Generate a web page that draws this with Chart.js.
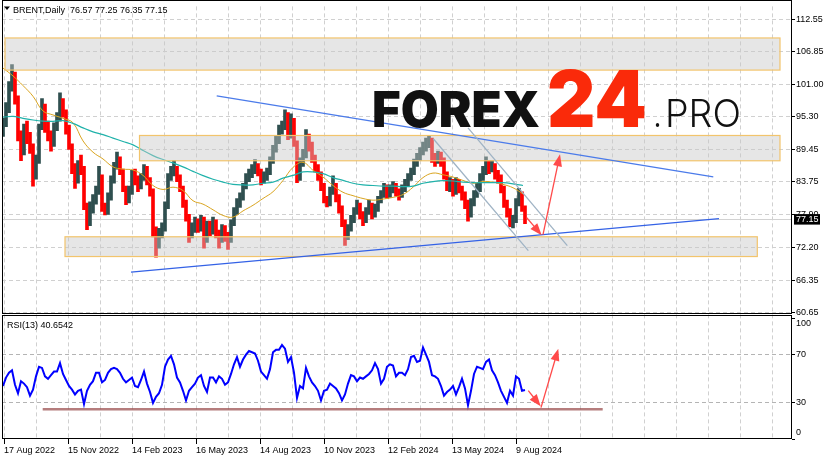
<!DOCTYPE html>
<html>
<head>
<meta charset="utf-8">
<script src="https://cdn.jsdelivr.net/npm/chart.js@4.4.1/dist/chart.umd.min.js"></script>
<style>
  html, body { margin: 0; padding: 0; background: #fff; }
  canvas { display: block; }
</style>
</head>
<body>
<canvas id="brentChart" width="831" height="460"></canvas>
<script>
// Brent daily, one candle for every 3 trading days (bar index = trading day since 17 Aug 2022)
const candleStep = 3;
const closes = [
  94.0, 96.5, 100.5, 102.5, 98.5, 92.0, 89.0, 93.0, 91.5, 90.0,
  85.0, 87.5, 93.5, 97.0, 93.0, 92.0, 90.5, 93.5, 95.0, 97.5,
  96.0, 93.0, 90.0, 86.0, 84.0, 86.5, 86.0, 79.5, 76.5, 79.0,
  80.5, 82.0, 84.5, 79.0, 78.5, 81.0, 84.0, 86.5, 87.5, 85.5,
  82.5, 80.5, 82.0, 85.0, 84.0, 83.0, 84.5, 86.0, 84.0, 82.0,
  75.0, 72.5, 74.5, 75.5, 79.5, 84.5, 85.5, 86.0, 84.5, 82.5,
  80.0, 77.5, 74.5, 75.5, 76.5, 75.5, 77.0, 73.5, 76.0, 75.0,
  76.5, 74.5, 73.5, 75.5, 74.0, 73.5, 76.5, 78.5, 80.0, 81.0,
  83.0, 84.5, 85.0, 86.0, 86.5, 85.5, 84.0, 84.5, 85.5, 87.5,
  89.5, 91.0, 93.0, 93.5, 95.5, 92.0, 94.5, 90.5, 84.5, 87.0,
  88.5, 91.5, 90.0, 88.0, 86.0, 85.0, 83.0, 80.5, 80.0, 82.0,
  83.0, 81.0, 79.0, 76.5, 74.0, 75.5, 77.0, 78.5, 79.5, 78.0,
  77.0, 78.5, 79.5, 78.0, 79.0, 80.5, 81.5, 82.5, 81.5, 82.5,
  83.0, 82.0, 81.5, 82.5, 83.5, 84.5, 85.5, 87.0, 88.0, 89.0,
  90.0, 90.5, 91.0, 88.0, 87.5, 88.5, 87.5, 85.0, 83.0, 83.5,
  82.0, 83.5, 82.5, 81.5, 80.0, 78.0, 80.0, 81.5, 82.5, 84.5,
  85.5, 87.0, 86.0, 86.5, 85.0, 84.5, 82.5, 80.0, 78.5, 76.5,
  77.0, 80.0, 81.5, 79.0, 77.15
];
const highs = [
  95.0, 97.8, 101.5, 104.5, 103.2, 99.0, 92.8, 94.0, 94.5, 92.5,
  90.5, 88.5, 94.0, 98.5, 97.5, 94.5, 92.8, 94.2, 96.0, 99.5,
  98.5, 96.5, 93.8, 90.5, 87.0, 87.5, 88.5, 86.5, 80.0, 80.2,
  81.5, 83.0, 86.5, 85.0, 80.0, 81.8, 84.8, 87.2, 89.0, 88.2,
  86.0, 83.0, 83.0, 85.8, 86.0, 84.8, 85.2, 86.8, 86.5, 84.5,
  82.5, 75.8, 75.5, 76.5, 80.2, 85.2, 86.5, 87.5, 86.5, 85.0,
  83.0, 80.5, 78.0, 76.5, 77.5, 77.2, 77.8, 77.5, 76.8, 76.8,
  77.5, 77.0, 75.2, 76.2, 76.0, 74.8, 77.0, 79.2, 80.8, 81.8,
  83.5, 85.2, 86.0, 86.8, 87.7, 87.0, 86.0, 85.5, 86.2, 88.2,
  90.2, 91.8, 93.8, 94.5, 96.5, 96.0, 95.8, 95.0, 91.0, 88.0,
  89.5, 93.0, 92.2, 90.8, 88.5, 86.8, 85.5, 83.5, 81.2, 82.8,
  84.8, 83.5, 81.5, 79.5, 77.0, 76.2, 77.8, 79.2, 80.5, 80.0,
  78.5, 79.2, 80.5, 80.0, 79.8, 81.2, 82.2, 83.5, 83.2, 83.2,
  83.8, 83.5, 82.5, 83.2, 84.2, 85.2, 86.2, 87.8, 88.8, 89.8,
  90.8, 91.5, 92.0, 91.5, 88.8, 89.2, 89.0, 88.0, 85.5, 84.5,
  84.2, 84.5, 84.2, 83.0, 82.0, 80.5, 80.8, 82.2, 83.5, 85.2,
  86.5, 88.2, 87.5, 87.5, 87.0, 85.8, 85.0, 83.0, 80.5, 79.0,
  77.8, 80.8, 82.6, 82.0, 79.5
];
const lows = [
  91.8, 93.5, 96.0, 99.8, 97.5, 91.0, 87.5, 88.5, 90.5, 88.8,
  83.0, 84.2, 87.0, 93.0, 92.5, 91.0, 89.2, 90.0, 92.8, 94.5,
  95.2, 92.2, 89.5, 85.2, 82.6, 83.5, 85.0, 78.8, 75.3, 76.0,
  78.2, 79.8, 81.5, 78.5, 77.9, 78.0, 80.5, 83.5, 86.0, 85.0,
  82.0, 79.7, 80.0, 81.5, 83.2, 82.0, 82.5, 84.0, 83.2, 81.2,
  74.0, 70.4, 72.0, 73.8, 75.0, 79.0, 84.0, 84.8, 83.8, 82.0,
  79.2, 76.8, 73.0, 73.8, 74.8, 74.8, 75.0, 72.0, 73.0, 74.2,
  74.5, 73.8, 72.0, 73.0, 73.2, 71.8, 73.0, 76.0, 78.0, 79.2,
  80.5, 82.5, 83.8, 84.5, 85.2, 84.8, 83.2, 83.5, 84.0, 85.0,
  87.0, 89.0, 90.5, 92.2, 93.0, 91.2, 91.5, 90.0, 83.6, 84.0,
  86.5, 88.0, 89.2, 87.2, 85.5, 84.0, 82.2, 80.0, 79.3, 79.5,
  81.5, 80.2, 78.2, 75.8, 72.5, 73.5, 75.0, 76.5, 78.0, 77.2,
  76.0, 76.5, 78.0, 77.2, 77.5, 78.5, 80.0, 81.0, 80.8, 81.0,
  81.8, 81.2, 80.5, 81.0, 82.0, 83.0, 84.0, 85.0, 86.5, 87.5,
  88.5, 89.2, 89.8, 87.2, 86.5, 87.0, 86.5, 84.2, 82.2, 82.0,
  81.2, 81.5, 81.8, 80.5, 79.0, 76.8, 77.5, 79.5, 81.0, 82.0,
  84.0, 85.0, 85.2, 85.5, 84.2, 83.5, 81.8, 79.2, 77.5, 75.8,
  75.6, 76.5, 79.5, 78.5, 76.35
];
// RSI(13), same 3-day steps
const rsi13 = [
  44, 51, 55, 57, 45, 38, 48, 46, 43, 36,
  41, 52, 60, 59, 52, 50, 53, 56, 56, 63,
  54, 49, 44, 41, 37, 40, 41, 29, 40, 45,
  48, 55, 55, 47, 49, 55, 58, 59, 58, 55,
  50, 47, 49, 51, 44, 43, 49, 56, 46, 39,
  30, 35, 38, 45, 60, 66, 69, 62, 51, 47,
  40, 32, 40, 43, 46, 51, 53, 44, 39, 51,
  51, 47, 52, 50, 45, 47, 54, 62, 68, 60,
  66, 70, 73, 72, 71, 65, 56, 53, 50, 58,
  72, 74, 74, 78, 75, 64, 68, 55, 34, 44,
  42, 59, 52, 47, 44, 40, 32, 40, 41, 46,
  44, 42, 38, 32, 37, 46, 53, 52, 48, 51,
  50, 52, 54, 57, 63, 58, 46, 50, 60, 62,
  61, 52, 55, 55, 53, 58, 68, 69, 64, 65,
  76, 70, 64, 53, 52, 50, 44, 36, 39, 41,
  44, 37, 43, 50, 42, 28, 40, 54, 60, 59,
  58, 64, 66, 57, 53, 47, 40, 35, 30, 40,
  36, 52, 50, 40, 40.65
];
// moving averages read every 10 bars
const maBars = [
  0, 10, 20, 30, 40, 50, 60, 70, 80, 90, 100, 110, 120, 130, 140, 150, 160, 170,
  180, 190, 200, 210, 220, 230, 240, 250, 260, 270, 280, 290, 300, 310, 320, 330,
  340, 350, 360, 370, 380, 390, 400, 410, 420, 430, 440, 450, 460, 470, 480, 490,
  500, 510, 520
];
const maFast = [
  103.9, 102.5, 100.8, 98.9, 96.3, 95.6, 95.0, 94.2, 91.0, 89.0,
  87.8, 86.4, 86.0, 85.85, 84.9, 83.1, 82.4, 82.8, 82.2, 80.4,
  79.8, 78.8, 77.8, 77.5, 78.6, 79.6, 80.8, 82.0, 84.0, 86.3,
  87.2, 85.8, 84.6, 83.1, 81.9, 81.3, 80.8, 80.5, 80.7, 81.0,
  81.5, 82.8, 84.5, 85.3, 85.0, 84.6, 84.0, 83.5, 83.8, 83.7,
  83.3, 82.7, 81.6
];
const maSlow = [
  95.2, 95.35, 95.0, 94.7, 94.5, 94.45, 94.6, 94.1, 93.3, 92.6,
  92.1, 91.5, 90.9, 90.3, 89.3, 88.4, 87.7, 87.1, 86.4, 85.6,
  84.85, 84.2, 83.7, 83.3, 83.2, 83.2, 83.5, 83.7, 84.4, 84.9,
  85.5, 85.5, 85.2, 84.5, 84.0, 83.5, 83.2, 83.1, 83.0, 83.0,
  82.9, 83.0, 83.5, 83.8, 83.95, 83.9, 83.7, 83.6, 83.6, 83.6,
  83.6, 83.4, 83.1
];

const priceTicks = [60.65, 66.35, 72.20, 77.90, 83.75, 89.45, 95.30, 101.00, 106.85, 112.55];
const rsiLevels = [0, 30, 70, 100];
const dateLabels = ['17 Aug 2022', '15 Nov 2022', '14 Feb 2023', '16 May 2023', '14 Aug 2023',
  '10 Nov 2023', '12 Feb 2024', '13 May 2024', '9 Aug 2024'];
const headerText = 'BRENT,Daily  76.57 77.25 76.35 77.15';
const rsiTitle = 'RSI(13) 40.6542';
const lastPrice = 77.15;

// drawings on the chart, in (bar, price) units
const zones = [
  [2, 777, 109.23, 103.54],
  [136.5, 777, 91.96, 87.48],
  [62, 754.3, 74.02, 70.52]
];
const trendLines = [
  [213.7, 98.96, 710.3, 84.62, '#4b7bea'],
  [128, 67.77, 716, 77.22, '#3462e6'],
  [430.3, 91.38, 525.3, 71.57, '#9fb3c4'],
  [465, 93.3, 564.3, 72.44, '#9fb3c4']
];
const priceArrows = [[523.7, 77.39, 538.7, 74.3], [540, 74.42, 557, 88.64]];
const rsiArrows = [[525.3, 40.1, 537.7, 27.2], [538, 26.1, 555.3, 74.9]];
const rsiSupport = [39.7, 599.7, 24.7];

Chart.defaults.font.family = "'Liberation Sans', Arial, sans-serif";
Chart.defaults.font.size = 9;
Chart.defaults.color = '#000';

function arrow(ctx, x1, y1, x2, y2) {
  const ang = Math.atan2(y2 - y1, x2 - x1);
  const len = 12, half = 4.5;
  ctx.strokeStyle = '#ff4a4a';
  ctx.fillStyle = '#ff4a4a';
  ctx.lineWidth = 1.3;
  ctx.beginPath();
  ctx.moveTo(x1, y1);
  ctx.lineTo(x2 - Math.cos(ang) * len * 0.8, y2 - Math.sin(ang) * len * 0.8);
  ctx.stroke();
  ctx.beginPath();
  ctx.moveTo(x2, y2);
  ctx.lineTo(x2 - Math.cos(ang) * len - Math.sin(ang) * half, y2 - Math.sin(ang) * len + Math.cos(ang) * half);
  ctx.lineTo(x2 - Math.cos(ang) * len + Math.sin(ang) * half, y2 - Math.sin(ang) * len - Math.cos(ang) * half);
  ctx.closePath();
  ctx.fill();
}

function fitText(ctx, text, left, baseline, width, font, color) {
  ctx.font = font;
  const w = ctx.measureText(text).width;
  ctx.save();
  ctx.translate(left, baseline);
  ctx.scale(width / w, 1);
  ctx.fillStyle = color;
  ctx.textBaseline = 'alphabetic';
  ctx.textAlign = 'left';
  ctx.fillText(text, 0, 0);
  ctx.restore();
}

const overlay = {
  id: 'overlay',
  beforeDraw(chart) {
    const c = chart.ctx;
    c.save();
    c.fillStyle = '#fff';
    c.fillRect(0, 0, chart.width, chart.height);
    c.restore();
  },
  beforeDatasetsDraw(chart) {
    // bid line
    const { ctx, chartArea: a, scales } = chart;
    const y = Math.round(scales.y.getPixelForValue(lastPrice)) + 0.5;
    ctx.save();
    ctx.strokeStyle = '#d2d2d2';
    ctx.lineWidth = 1;
    ctx.beginPath();
    ctx.moveTo(a.left, y);
    ctx.lineTo(a.right, y);
    ctx.stroke();
    ctx.restore();
  },
  afterDatasetsDraw(chart) {
    const { ctx, chartArea: a, scales: { x, y, yr } } = chart;

    // price pane drawings
    ctx.save();
    ctx.beginPath();
    ctx.rect(a.left, y.top, a.right - a.left, y.bottom - y.top);
    ctx.clip();
    zones.forEach(z => {
      const x1 = x.getPixelForValue(z[0]), x2 = x.getPixelForValue(z[1]);
      const y1 = y.getPixelForValue(z[2]), y2 = y.getPixelForValue(z[3]);
      ctx.fillStyle = 'rgba(200,200,200,0.45)';
      ctx.fillRect(x1, y1, x2 - x1, y2 - y1);
      ctx.strokeStyle = '#f2c46c';
      ctx.lineWidth = 1.2;
      ctx.strokeRect(x1, y1, x2 - x1, y2 - y1);
    });
    trendLines.forEach(t => {
      ctx.strokeStyle = t[4];
      ctx.lineWidth = 1.3;
      ctx.beginPath();
      ctx.moveTo(x.getPixelForValue(t[0]), y.getPixelForValue(t[1]));
      ctx.lineTo(x.getPixelForValue(t[2]), y.getPixelForValue(t[3]));
      ctx.stroke();
    });
    priceArrows.forEach(p => arrow(ctx, x.getPixelForValue(p[0]), y.getPixelForValue(p[1]),
      x.getPixelForValue(p[2]), y.getPixelForValue(p[3])));

    // logo
    fitText(ctx, 'FOREX', 372, 127, 168, "900 49px Inter, Lato, sans-serif", '#111');
    fitText(ctx, '24', 547, 127, 100, "900 79px Inter, Lato, sans-serif", '#fa2a0a');
    fitText(ctx, '.', 653, 127, 9, "300 38px Inter, Lato, sans-serif", '#111');
    fitText(ctx, 'PRO', 665, 127, 76, "300 38px Inter, Lato, sans-serif", '#111');
    ctx.restore();

    // RSI pane drawings
    ctx.save();
    ctx.beginPath();
    ctx.rect(a.left, yr.top, a.right - a.left, yr.bottom - yr.top);
    ctx.clip();
    const sy = yr.getPixelForValue(rsiSupport[2]);
    ctx.strokeStyle = 'rgba(150,70,70,0.7)';
    ctx.lineWidth = 2.5;
    ctx.beginPath();
    ctx.moveTo(x.getPixelForValue(rsiSupport[0]), sy);
    ctx.lineTo(x.getPixelForValue(rsiSupport[1]), sy);
    ctx.stroke();
    rsiArrows.forEach(p => arrow(ctx, x.getPixelForValue(p[0]), yr.getPixelForValue(p[1]),
      x.getPixelForValue(p[2]), yr.getPixelForValue(p[3])));
    ctx.restore();
  },
  afterDraw(chart) {
    const { ctx, chartArea: a, scales: { y, yr } } = chart;
    ctx.save();
    // panel borders
    ctx.strokeStyle = '#000';
    ctx.lineWidth = 1;
    ctx.strokeRect(a.left + 0.5, 0.5, a.right - a.left - 1, 313);
    ctx.strokeRect(a.left + 0.5, 315.5, a.right - a.left - 1, 123);

    // titles
    ctx.fillStyle = '#000';
    ctx.beginPath();
    ctx.moveTo(4, 6.5);
    ctx.lineTo(10, 6.5);
    ctx.lineTo(7, 10);
    ctx.closePath();
    ctx.fill();
    ctx.font = "9px 'Liberation Sans', Arial, sans-serif";
    ctx.textBaseline = 'alphabetic';
    ctx.textAlign = 'left';
    ctx.fillText(headerText, 13, 13);
    ctx.fillText(rsiTitle, 7, 328);

    // RSI scale labels
    ctx.textBaseline = 'middle';
    rsiLevels.forEach(v => {
      let py = yr.getPixelForValue(v);
      if (v === 100) py += 5;
      if (v === 0) py -= 6;
      ctx.fillText(String(v), a.right + 4, py);
    });

    // last price box
    const py = y.getPixelForValue(lastPrice);
    ctx.fillStyle = '#000';
    ctx.fillRect(a.right + 2, py - 5, 26, 10.5);
    ctx.fillStyle = '#fff';
    ctx.fillText(lastPrice.toFixed(2), a.right + 4, py + 0.5);
    ctx.restore();
  }
};

const candleData = closes.map((c, k) => ({ x: k * candleStep, y: [lows[k], highs[k]] }));
const candleColors = closes.map((c, k) => (k === 0 || c >= closes[k - 1]) ? '#2f4f4f' : '#ff0000');

let ctx = document.getElementById('brentChart').getContext('2d');
let chart = new Chart(ctx, {
  type: 'bar',
  data: {
    datasets: [
      {
        type: 'bar',
        data: candleData,
        backgroundColor: candleColors,
        borderWidth: 0,
        barThickness: 3,
        yAxisID: 'y',
        order: 3
      },
      {
        type: 'line',
        data: maBars.map((b, i) => ({ x: b, y: maFast[i] })),
        borderColor: '#daa520',
        borderWidth: 1,
        pointRadius: 0,
        tension: 0.4,
        yAxisID: 'y',
        order: 2
      },
      {
        type: 'line',
        data: maBars.map((b, i) => ({ x: b, y: maSlow[i] })),
        borderColor: '#20b2aa',
        borderWidth: 1.2,
        pointRadius: 0,
        tension: 0.4,
        yAxisID: 'y',
        order: 1
      },
      {
        type: 'line',
        data: rsi13.map((v, k) => ({ x: k * candleStep, y: v })),
        borderColor: '#0000ff',
        borderWidth: 2,
        pointRadius: 0,
        tension: 0,
        yAxisID: 'yr',
        order: 0
      }
    ]
  },
  options: {
    responsive: false,
    animation: false,
    events: [],
    layout: { padding: { left: 2, top: 1, right: 0, bottom: 0 } },
    plugins: { legend: { display: false }, tooltip: { enabled: false } },
    scales: {
      x: {
        type: 'linear',
        min: -1,
        max: 789,
        offset: false,
        afterFit: s => { s.height = 21; },
        afterBuildTicks: s => {
          const t = [];
          for (let i = 0; i < 25; i++) t.push({ value: 1 + 32 * i });
          s.ticks = t;
        },
        ticks: {
          autoSkip: false,
          maxRotation: 0,
          align: 'start',
          padding: 1,
          callback: (v, i) => (i % 2 === 0 && dateLabels[i / 2]) ? dateLabels[i / 2] : ''
        },
        grid: {
          offset: false,
          color: '#d0d0d0',
          tickLength: 5,
          tickColor: c => (c.index % 2 === 0 && c.index / 2 < dateLabels.length) ? '#000' : 'rgba(0,0,0,0)',
          tickBorderDash: [1, 0]
        },
        border: { display: false, dash: [4, 3] }
      },
      y: {
        type: 'linear',
        position: 'right',
        stack: 'panes',
        stackWeight: 313,
        min: 60.07,
        max: 114.82,
        afterFit: s => { s.width = 39; },
        afterBuildTicks: s => { s.ticks = priceTicks.map(v => ({ value: v })); },
        ticks: { autoSkip: false, padding: 1, callback: v => v.toFixed(2) },
        grid: { color: '#d0d0d0', tickLength: 3, tickColor: '#000', tickBorderDash: [1, 0] },
        border: { display: false, dash: [4, 3] }
      },
      yr: {
        type: 'linear',
        position: 'right',
        stack: 'panes',
        stackWeight: 125,
        min: 0,
        max: 102.5,
        afterFit: s => { s.width = 39; },
        afterBuildTicks: s => { s.ticks = rsiLevels.map(v => ({ value: v })); },
        ticks: { display: false },
        grid: {
          color: c => (c.tick && (c.tick.value === 30 || c.tick.value === 70)) ? '#b4b4b4' : 'rgba(0,0,0,0)',
          tickLength: 3,
          tickColor: '#000',
          tickBorderDash: [1, 0]
        },
        border: { display: false, dash: [4, 3] }
      }
    }
  },
  plugins: [overlay]
});
</script>
</body>
</html>
